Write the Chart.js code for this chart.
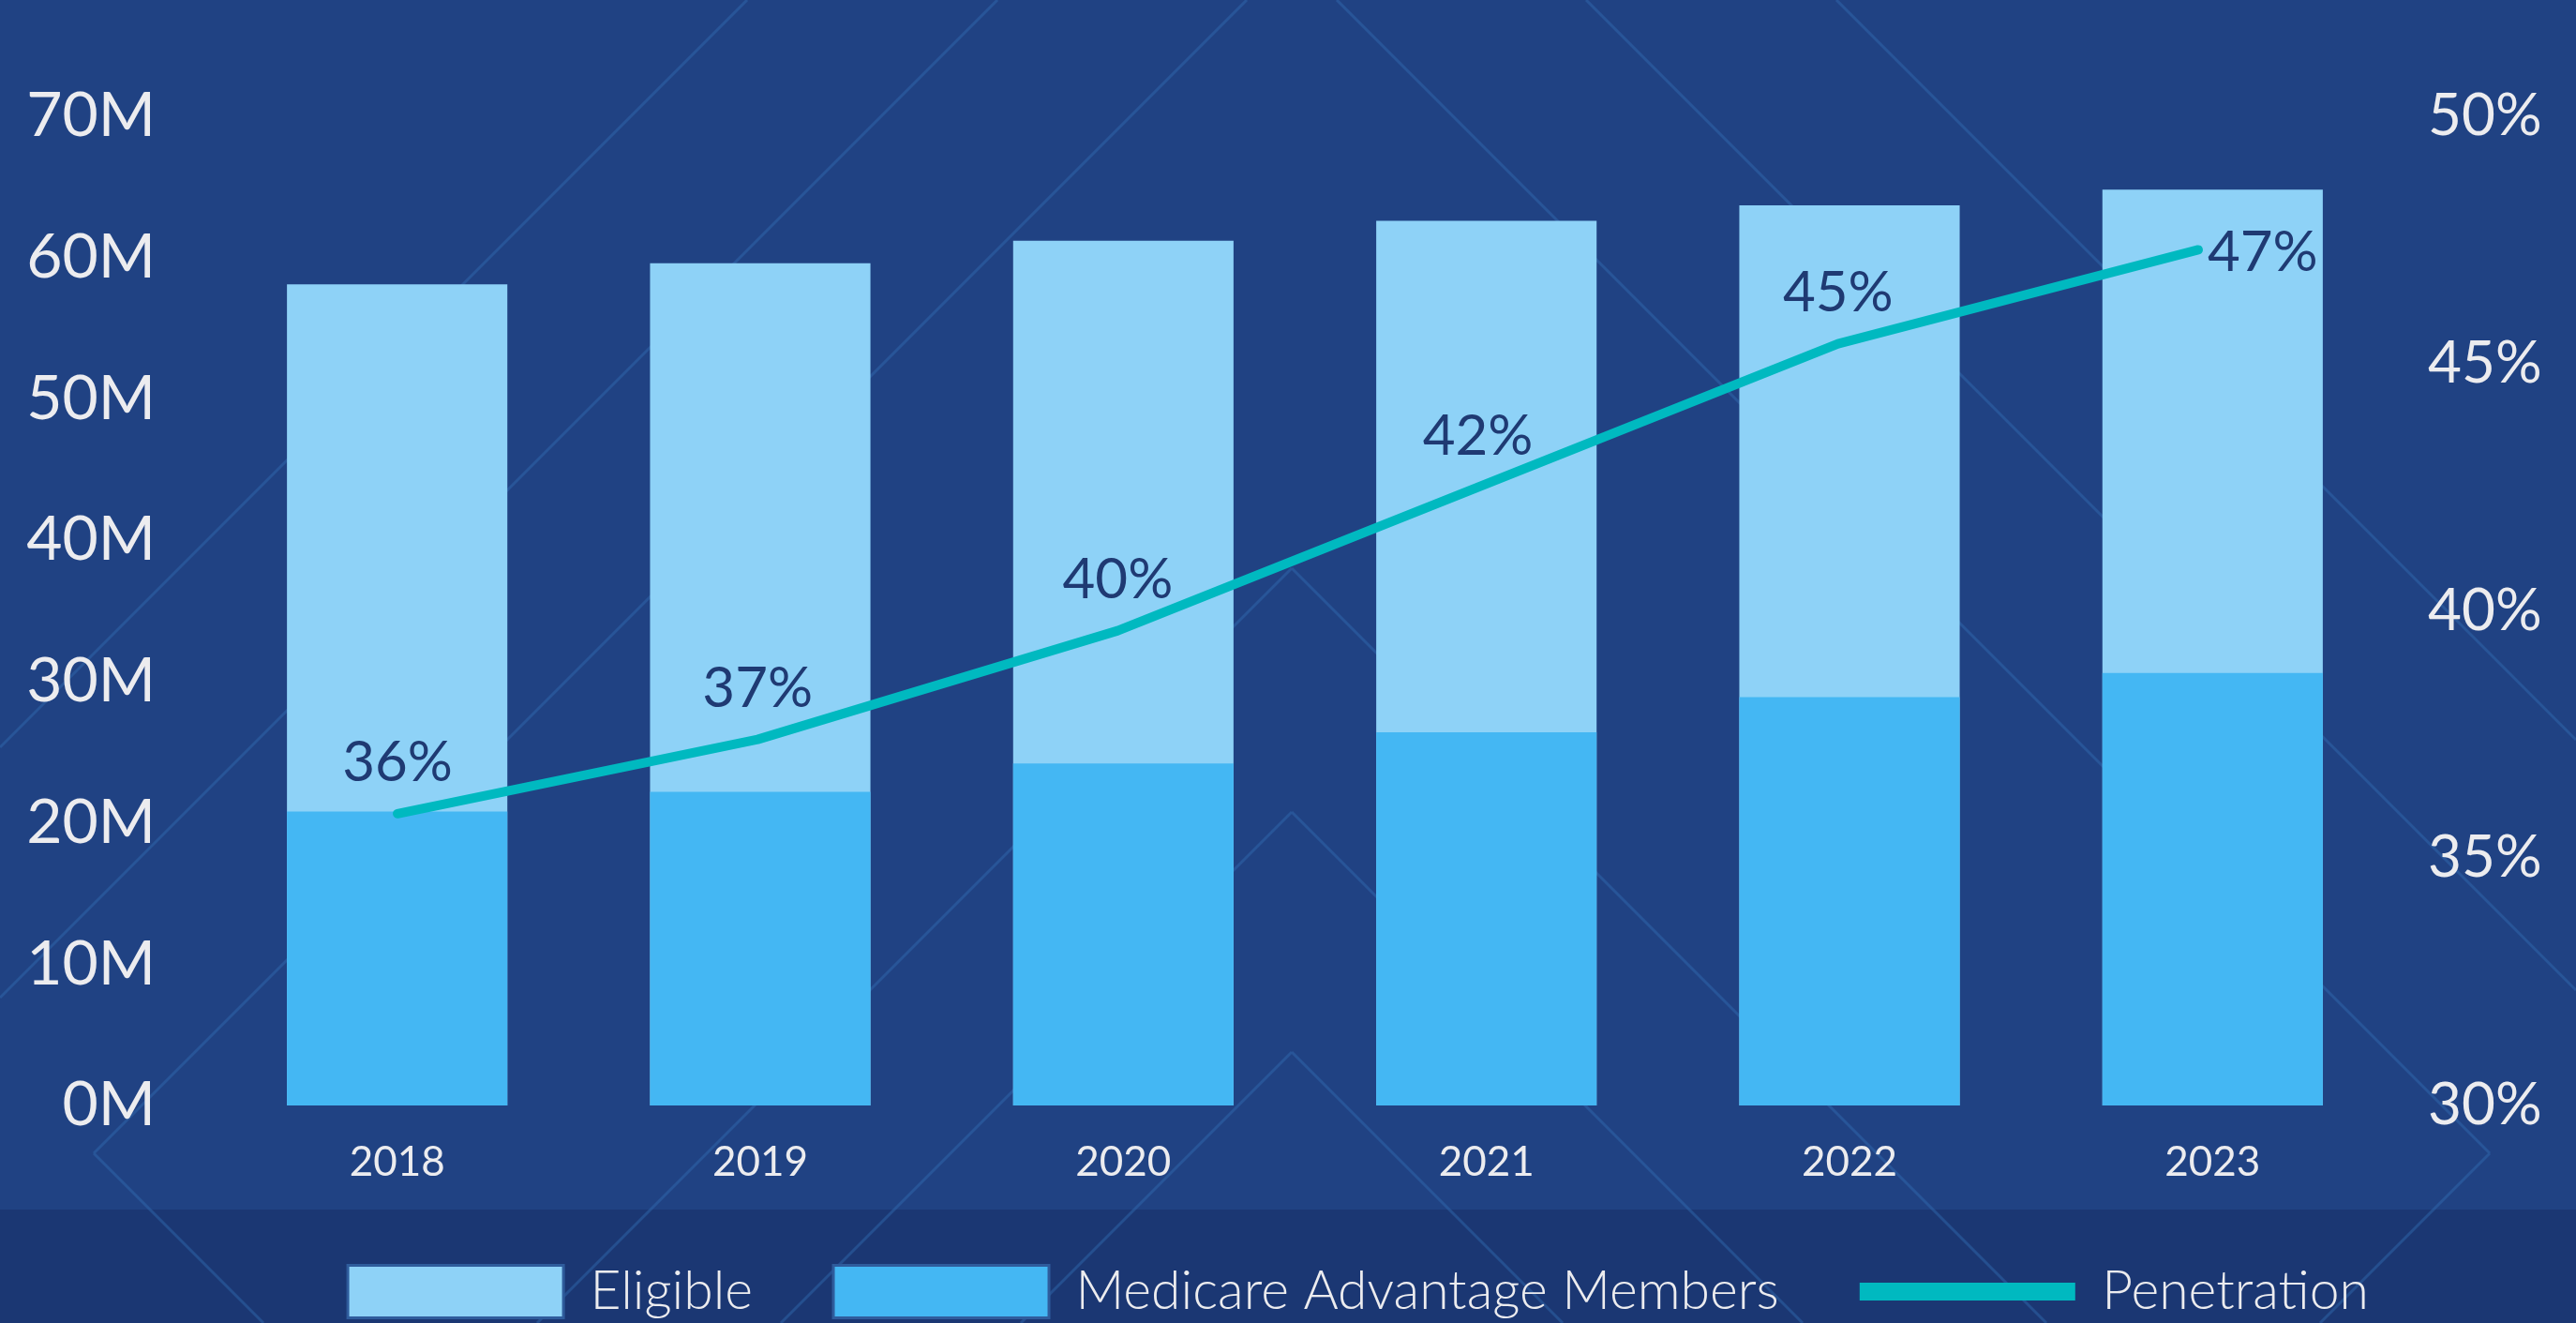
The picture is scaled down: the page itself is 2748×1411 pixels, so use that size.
<!DOCTYPE html>
<html>
<head>
<meta charset="utf-8">
<title>Medicare Advantage penetration</title>
<script src="https://cdn.jsdelivr.net/npm/chart.js"></script>
<style>
  html, body { margin: 0; padding: 0; }
  body {
    width: 2748px;
    height: 1411px;
    overflow: hidden;
    background: #1b3773;
  }
  canvas { display: block; }
</style>
</head>
<body>
<canvas id="myChart" width="2748" height="1416"></canvas>
<script>
// values (millions / percent)
var years = ['2018', '2019', '2020', '2021', '2022', '2023'];
var eligible = [58.1, 59.6, 61.2, 62.6, 63.7, 64.8];
var members = [20.8, 22.2, 24.2, 26.4, 28.9, 30.6];
var penetration = [35.9, 37.4, 39.6, 42.5, 45.4, 47.3];
var penetrationLabels = ['36%', '37%', '40%', '42%', '45%', '47%'];

var colors = {
  panel: '#204283',
  band: '#1b3773',
  deco: 'rgba(52, 108, 178, 0.45)',
  eligible: '#8ed2f7',
  members: '#44b7f3',
  line: '#00b9c0',
  tick: '#ececef',
  label: '#1f3a73',
  boxBorder: '#2f5c9c'
};

var fontFamily = 'Lato, "Open Sans", sans-serif';

// the line in the original sits on a slightly narrower x range than the bars
var linePoints = penetration.map((v, i) => ({ x: i, y: v }));

// background: lighter panel, darker legend band and the faint chevron lines
const backdrop = {
  id: 'backdrop',
  beforeDraw(chart) {
    const c = chart.ctx;
    const w = chart.width;
    c.save();
    c.fillStyle = colors.panel;
    c.fillRect(0, 0, w, 1290);
    c.fillStyle = colors.band;
    c.fillRect(0, 1290, w, chart.height - 1290);
    c.strokeStyle = colors.deco;
    c.lineWidth = 3;
    const segs = [
      [797, 0, 0, 797], [1064, 0, 0, 1064], [1330, 0, 100, 1230], [100, 1230, 281, 1411],
      [1959, 0, 2748, 789], [1692, 0, 2748, 1056], [1426, 0, 2656, 1230], [2656, 1230, 2475, 1411],
      [1378, 606, 573, 1411], [1378, 606, 2183, 1411],
      [1378, 866, 833, 1411], [1378, 866, 1923, 1411],
      [1378, 1122, 1089, 1411], [1378, 1122, 1667, 1411]
    ];
    c.beginPath();
    segs.forEach(s => { c.moveTo(s[0], s[1]); c.lineTo(s[2], s[3]); });
    c.stroke();
    c.restore();
  }
};

// percent labels next to the line points
const pctLabels = {
  id: 'pctLabels',
  afterDatasetsDraw(chart) {
    const meta = chart.getDatasetMeta(2);
    const ctx = chart.ctx;
    ctx.save();
    ctx.font = '400 60px ' + fontFamily;
    ctx.fillStyle = colors.label;
    ctx.textBaseline = 'middle';
    meta.data.forEach((pt, i) => {
      const last = i === meta.data.length - 1;
      ctx.textAlign = last ? 'left' : 'center';
      ctx.fillText(penetrationLabels[i], last ? pt.x + 10 : pt.x, last ? pt.y + 3 : pt.y - 54);
    });
    ctx.restore();
  }
};

// legend sits a bit right of centre in the original
const legendShift = {
  id: 'legendShift',
  afterLayout(chart) {
    chart.legend.left += 75;
    chart.legend.right += 75;
  }
};

const ctx = document.getElementById('myChart');

const chart = new Chart(ctx, {
  type: 'bar',
  data: {
    labels: years,
    datasets: [
      {
        label: 'Eligible',
        data: eligible,
        backgroundColor: colors.eligible,
        grouped: false,
        order: 2,
        yAxisID: 'y'
      },
      {
        label: 'Medicare Advantage Members',
        data: members,
        backgroundColor: colors.members,
        grouped: false,
        order: 1,
        yAxisID: 'y'
      },
      {
        type: 'line',
        label: 'Penetration',
        data: linePoints,
        borderColor: colors.line,
        backgroundColor: colors.line,
        borderWidth: 10,
        borderCapStyle: 'round',
        borderJoinStyle: 'round',
        pointRadius: 0,
        tension: 0,
        order: 0,
        xAxisID: 'x2',
        yAxisID: 'y1'
      }
    ]
  },
  options: {
    responsive: false,
    animation: false,
    devicePixelRatio: 1,
    barPercentage: 0.607,
    categoryPercentage: 1,
    layout: {
      padding: { top: 124, left: 0, right: 0, bottom: 0 }
    },
    plugins: {
      tooltip: { enabled: false },
      legend: {
        position: 'bottom',
        labels: {
          usePointStyle: true,
          pointStyleWidth: 230,
          boxHeight: 56,
          padding: 86,
          color: colors.tick,
          font: { family: fontFamily, size: 57, weight: '300' },
          sort: (a, b) => a.datasetIndex - b.datasetIndex,
          generateLabels: function (chart) {
            const items = Chart.defaults.plugins.legend.labels.generateLabels(chart);
            items.forEach(item => {
              if (item.datasetIndex === 2) {
                item.pointStyle = 'line';
                item.strokeStyle = colors.line;
                item.lineWidth = 19;
                item.lineCap = 'butt';
              } else {
                item.pointStyle = 'rect';
                item.strokeStyle = colors.boxBorder;
                item.lineWidth = 3;
              }
            });
            return items;
          }
        }
      }
    },
    scales: {
      x: {
        grid: { display: false, drawTicks: false },
        border: { display: false },
        ticks: {
          color: colors.tick,
          padding: 34,
          font: { family: fontFamily, size: 44 }
        },
        afterFit: function (scale) { scale.height = 84; }
      },
      x2: {
        type: 'linear',
        display: false,
        offset: false,
        grid: { offset: false },
        min: -0.505,
        max: 5.544
      },
      y: {
        position: 'left',
        min: 0,
        max: 70,
        grid: { display: false, drawTicks: false },
        border: { display: false },
        ticks: {
          stepSize: 10,
          color: colors.tick,
          padding: 64,
          font: { family: fontFamily, size: 66 },
          callback: v => v + 'M'
        },
        afterFit: function (scale) { scale.width = 230; }
      },
      y1: {
        position: 'right',
        min: 30,
        max: 50,
        grid: { display: false, drawTicks: false },
        border: { display: false },
        ticks: {
          stepSize: 5,
          color: colors.tick,
          padding: 36,
          font: { family: fontFamily, size: 62 },
          callback: v => v + '%'
        },
        afterFit: function (scale) { scale.width = 194; }
      }
    }
  },
  plugins: [backdrop, pctLabels, legendShift]
});
</script>
</body>
</html>
